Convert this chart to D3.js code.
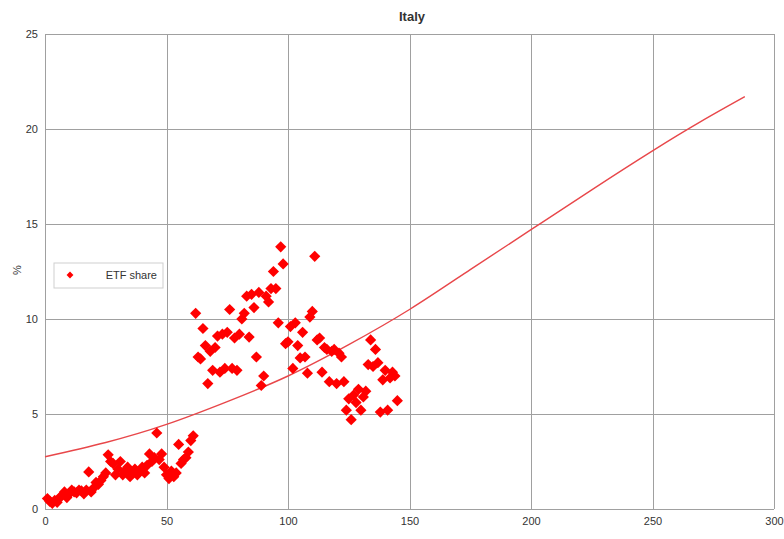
<!DOCTYPE html>
<html lang="en">
<head>
<meta charset="utf-8">
<title>Italy</title>
<script src="https://cdn.jsdelivr.net/npm/d3@7"></script>
<style>
body{
  margin: 0;
  background: #fff;
}
#chart text{
  font-family: "Liberation Sans", Arial, sans-serif;
  fill: #333;
}
.grid line{
  stroke: #a0a0a0;
  stroke-width: 1;
  shape-rendering: crispEdges;
}
</style>
</head>
<body>
<div id="chart"></div>
<script>
// months since start (x) and ETF share in % (y)
var shareX = [];
for (var i = 1; i <= 145; i++) shareX.push(i);
var shareY = [
  0.55, 0.4, 0.3, 0.45, 0.35, 0.6, 0.7, 0.9, 0.6, 0.8,
  1.0, 0.9, 0.85, 1.0, 0.95, 0.8, 1.0, 1.95, 0.9, 1.1,
  1.4, 1.3, 1.5, 1.7, 1.9, 2.85, 2.5, 2.4, 1.8, 2.1,
  2.5, 1.8, 2.0, 2.2, 1.7, 1.9, 2.1, 1.8, 2.0, 2.2,
  1.9, 2.3, 2.9, 2.5, 2.7, 4.0, 2.6, 2.9, 2.2, 1.8,
  1.6, 2.0, 1.7, 1.9, 3.4, 2.4, 2.6, 2.7, 3.0, 3.6,
  3.85, 10.3, 8.0, 7.9, 9.5, 8.6, 6.6, 8.3, 7.3, 8.5,
  9.1, 7.2, 9.2, 7.4, 9.3, 10.5, 7.4, 9.0, 7.3, 9.2,
  10.0, 10.3, 11.2, 9.05, 11.3, 10.6, 8.0, 11.4, 6.5, 7.0,
  11.2, 10.9, 11.6, 12.5, 11.6, 9.8, 13.8, 12.9, 8.7, 8.8,
  9.6, 7.4, 9.8, 8.6, 7.95, 9.3, 8.0, 7.15, 10.1, 10.4,
  13.3, 8.9, 9.0, 7.2, 8.5, 8.4, 6.7, 8.3, 8.4, 6.6,
  8.2, 8.0, 6.7, 5.2, 5.8, 4.7, 6.0, 5.6, 6.3, 5.2,
  5.9, 6.2, 7.6, 8.9, 7.5, 8.4, 7.7, 5.1, 6.8, 7.3,
  5.2, 6.9, 7.2, 7.0, 5.7
];

// fitted trend
var trendX = [0, 25, 50, 75, 100, 125, 150, 175, 200, 225, 250, 270, 288];
var trendY = [2.75, 3.5, 4.45, 5.65, 7.0, 8.65, 10.5, 12.6, 14.7, 16.8, 18.85, 20.4, 21.7];

var xTicks = [0, 50, 100, 150, 200, 250, 300];
var yTicks = [0, 5, 10, 15, 20, 25];

var W = 784, H = 539;
var plotL = 45, plotR = 774, plotT = 34, plotB = 509;

var svg = d3.select("#chart").append("svg")
  .attr("width", W)
  .attr("height", H);

var x = d3.scaleLinear().domain([0, 300]).range([plotL, plotR]);
var y = d3.scaleLinear().domain([0, 25]).range([plotB, plotT]);

// grid lines
var grid = svg.append("g").attr("class", "grid");
grid.selectAll(".vx").data(xTicks).enter().append("line")
  .attr("x1", function(d) { return Math.round(x(d)) + 0.5; })
  .attr("x2", function(d) { return Math.round(x(d)) + 0.5; })
  .attr("y1", plotT).attr("y2", plotB);
grid.selectAll(".hy").data(yTicks).enter().append("line")
  .attr("x1", plotL).attr("x2", plotR)
  .attr("y1", function(d) { return Math.round(y(d)) + 0.5; })
  .attr("y2", function(d) { return Math.round(y(d)) + 0.5; });

// axes (labels only)
svg.append("g")
  .attr("transform", "translate(0," + plotB + ")")
  .call(d3.axisBottom(x).tickValues(xTicks).tickSize(0).tickPadding(8));
svg.append("g")
  .attr("transform", "translate(" + plotL + ",0)")
  .call(d3.axisLeft(y).tickValues(yTicks).tickSize(0).tickPadding(7));
svg.selectAll(".domain").remove();
svg.selectAll(".tick text").attr("font-size", 11).attr("fill", "#333");

// trend curve
var line = d3.line()
  .x(function(d, i) { return x(trendX[i]); })
  .y(function(d) { return y(d); })
  .curve(d3.curveNatural);
svg.append("path")
  .datum(trendY)
  .attr("d", line)
  .attr("fill", "none")
  .attr("stroke", "#e8474a")
  .attr("stroke-width", 1.4);

// scatter
var diamond = d3.symbol().type(d3.symbolDiamond2).size(80);
svg.append("g").selectAll("path")
  .data(shareY)
  .enter().append("path")
  .attr("d", diamond)
  .attr("transform", function(d, i) { return "translate(" + x(shareX[i]) + "," + y(d) + ")"; })
  .attr("fill", "#ff0000");

// title
svg.append("text")
  .attr("x", 412).attr("y", 21)
  .attr("text-anchor", "middle")
  .attr("font-size", 13)
  .attr("font-weight", "bold")
  .attr("fill", "#222")
  .text("Italy");

// y label
svg.append("text")
  .attr("transform", "translate(21,270) rotate(-90)")
  .attr("text-anchor", "middle")
  .attr("font-size", 11)
  .text("%");

// legend
var lg = svg.append("g").attr("transform", "translate(54,263)");
lg.append("rect")
  .attr("width", 109).attr("height", 25)
  .attr("fill", "#fff")
  .attr("stroke", "#cfcfcf");
lg.append("path")
  .attr("d", d3.symbol().type(d3.symbolDiamond2).size(30))
  .attr("transform", "translate(16,12)")
  .attr("fill", "#ff0000");
lg.append("text")
  .attr("x", 103).attr("y", 16)
  .attr("text-anchor", "end")
  .attr("font-size", 11)
  .text("ETF share");
</script>
</body>
</html>
